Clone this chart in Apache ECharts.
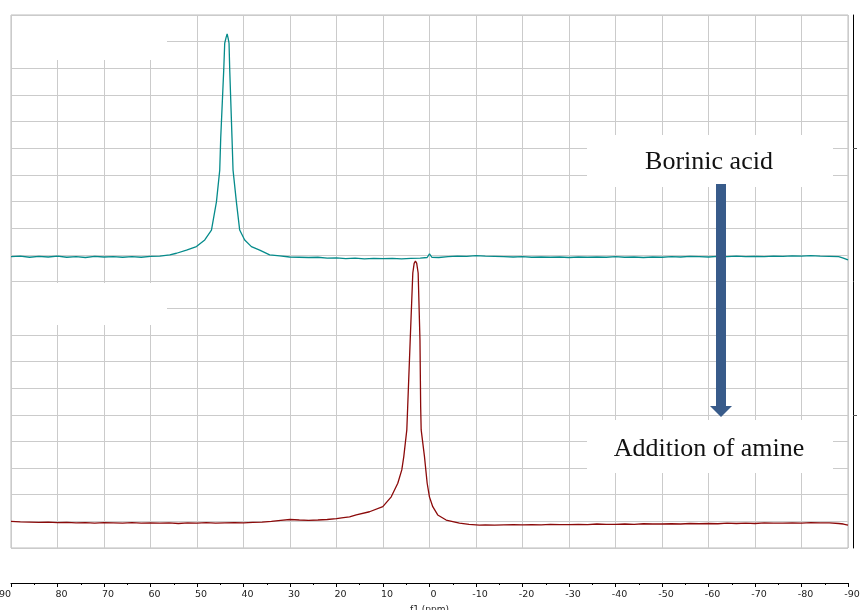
<!DOCTYPE html>
<html><head><meta charset="utf-8">
<script src="https://cdn.jsdelivr.net/npm/echarts@6/dist/echarts.min.js"></script>
<style>html,body{margin:0;padding:0;background:#fff}#c{width:860px;height:610px}</style>
</head><body><div id="c"></div>
<script>
// f1 (ppm) chemical shift axis
const xMin = -90, xMax = 90, xStep = 10;
// Borinic acid spectrum (teal)
const borinicPpm = [90,88,86,84,82,80,78,76,74,72,70,68,66,64,62,60,58,55.85,54.41,52.26,50.12,48.33,46.89,45.82,45.11,44.9,44.25,44.04,43.75,43.52,43.3,43.11,42.96,42.47,42.25,41.53,40.82,39.74,38.3,36.52,34.37,32.2,30.08,28,26,24,22,20,18,16,14,12,10,8,6,4,2,0.5,0,-0.5,-2,-4,-6,-8,-10,-12,-14,-16,-18,-20,-22,-24,-26,-28,-30,-32,-34,-36,-38,-40,-42,-44,-46,-48,-50,-52,-54,-56,-58,-60,-62,-64,-66,-68,-70,-72,-74,-76,-78,-80,-82,-84,-86,-88,-89,-90];
const borinicInt = [10.93,10.95,10.91,10.94,10.92,10.95,10.91,10.93,10.90,10.94,10.92,10.93,10.91,10.93,10.91,10.94,10.95,11.00,11.06,11.18,11.31,11.56,11.93,12.99,14.18,15.38,17.94,18.94,19.15,19.29,19.12,18.94,17.94,15.38,14.18,12.99,11.93,11.56,11.31,11.18,11.00,10.96,10.92,10.91,10.90,10.91,10.88,10.89,10.86,10.88,10.85,10.87,10.86,10.87,10.85,10.87,10.88,10.90,11.04,10.91,10.90,10.93,10.95,10.94,10.97,10.95,10.94,10.93,10.92,10.93,10.91,10.92,10.91,10.92,10.90,10.92,10.91,10.92,10.91,10.93,10.91,10.92,10.90,10.92,10.91,10.93,10.92,10.94,10.93,10.92,10.94,10.93,10.95,10.93,10.94,10.93,10.95,10.94,10.96,10.95,10.97,10.95,10.94,10.93,10.88,10.81];
// After addition of amine (dark red)
const aminePpm = [90,88,86,84,82,80,78,76,74,72,70,68,66,64,62,60,58,56,54,52,50,48,46,44,42,40,38,36,34,32,30,28,26,24,22,20,18.5,17.19,15.75,12.9,10.04,8.23,6.82,5.96,5.53,4.88,4.69,4.15,3.59,3.3,3.02,2.75,2.44,2.05,1.9,1.79,1.08,0.5,0.01,-0.7,-1.77,-3.58,-6.44,-8.5,-10.73,-12,-14,-16,-18,-20,-22,-24,-26,-28,-30,-32,-34,-36,-38,-40,-42,-44,-46,-48,-50,-52,-54,-56,-58,-60,-62,-64,-66,-68,-70,-72,-74,-76,-78,-80,-82,-84,-86,-88,-89,-90];
const amineInt = [1.00,0.98,0.97,0.96,0.97,0.95,0.96,0.94,0.95,0.93,0.95,0.94,0.93,0.95,0.93,0.94,0.93,0.94,0.92,0.94,0.93,0.95,0.93,0.94,0.95,0.94,0.96,0.97,1.00,1.04,1.07,1.05,1.04,1.05,1.07,1.10,1.14,1.17,1.24,1.36,1.55,1.92,2.43,2.93,3.43,4.43,5.30,7.80,10.32,10.68,10.77,10.68,10.32,7.80,5.30,4.43,3.43,2.43,1.92,1.55,1.24,1.05,0.93,0.89,0.86,0.87,0.86,0.87,0.88,0.87,0.88,0.87,0.89,0.88,0.88,0.89,0.88,0.90,0.89,0.89,0.90,0.89,0.91,0.90,0.90,0.91,0.90,0.92,0.91,0.92,0.91,0.93,0.92,0.93,0.92,0.94,0.93,0.93,0.94,0.93,0.95,0.94,0.94,0.92,0.90,0.86];
const labelTop = 'Borinic acid';
const labelBottom = 'Addition of amine';
const rightTicks = [5, 15];

const zip = (a, b) => a.map((v, i) => [v, b[i]]);
const chart = echarts.init(document.getElementById('c'), null, {renderer: 'canvas'});
const gridCol = '#cbcbcb';
chart.setOption({
  animation: false,
  backgroundColor: '#fff',
  grid: {left: 11, right: 12, top: 15, bottom: 62, show: true, borderColor: '#bdbdbd', borderWidth: 1,
         backgroundColor: 'transparent', outerBoundsMode: 'none', containLabel: false},
  xAxis: {
    type: 'value', min: xMin, max: xMax, interval: xStep, inverse: true,
    offset: 35, position: 'bottom',
    name: 'f1 (ppm)', nameLocation: 'middle', nameGap: 19,
    nameTextStyle: {fontFamily: 'DejaVu Sans', fontSize: 9, color: '#222'},
    axisLine: {show: true, onZero: false, lineStyle: {color: '#000', width: 1}},
    axisTick: {show: true, inside: false, length: 4, lineStyle: {color: '#000'}},
    minorTick: {show: true, splitNumber: 2, length: 2, lineStyle: {color: '#000'}},
    axisLabel: {fontFamily: 'DejaVu Sans', fontSize: 9.5, color: '#222', margin: 7, padding: [0, 0, 0, 8],
                showMinLabel: true, showMaxLabel: true, alignMaxLabel: 'right'},
    splitLine: {show: true, lineStyle: {color: gridCol, width: 1}}
  },
  yAxis: [{
    type: 'value', min: 0, max: 20, interval: 1,
    axisLine: {show: false}, axisTick: {show: false}, axisLabel: {show: false},
    splitLine: {show: true, lineStyle: {color: gridCol, width: 1}}
  }, {
    type: 'value', min: 0, max: 20, interval: 10, position: 'right', offset: 5,
    axisLine: {show: true, onZero: false, lineStyle: {color: '#000', width: 1}},
    axisTick: {show: true, inside: false, length: 4, customValues: rightTicks, lineStyle: {color: '#555'}},
    axisLabel: {show: false}, splitLine: {show: false}
  }],
  series: [{
    type: 'line', name: labelTop, data: zip(borinicPpm, borinicInt), showSymbol: false, z: 3,
    lineStyle: {color: '#058b8b', width: 1.3}, itemStyle: {color: '#058b8b'}
  }, {
    type: 'line', name: labelBottom, data: zip(aminePpm, amineInt), showSymbol: false, z: 3,
    lineStyle: {color: '#8b0a0a', width: 1.3}, itemStyle: {color: '#8b0a0a'}
  }],
  graphic: [
    {type: 'rect', z: 1, shape: {x: 12, y: 16, width: 155, height: 44}, style: {fill: '#fff'}},
    {type: 'rect', z: 1, shape: {x: 12, y: 283, width: 155, height: 42}, style: {fill: '#fff'}},
    {type: 'rect', z: 1, shape: {x: 587, y: 135, width: 246, height: 52}, style: {fill: '#fff'}},
    {type: 'rect', z: 1, shape: {x: 587, y: 420, width: 246, height: 53}, style: {fill: '#fff'}},
    {type: 'rect', z: 6, shape: {x: 716, y: 184, width: 10, height: 223}, style: {fill: '#385b8a'}},
    {type: 'polygon', z: 6, shape: {points: [[710, 406], [732, 406], [721, 417]]}, style: {fill: '#385b8a'}},
    {type: 'text', z: 7, x: 709, y: 162, style: {text: labelTop, font: '26px "Liberation Serif"', fill: '#111', align: 'center', verticalAlign: 'middle'}},
    {type: 'text', z: 7, x: 709, y: 449, style: {text: labelBottom, font: '26px "Liberation Serif"', fill: '#111', align: 'center', verticalAlign: 'middle'}}
  ]
});
</script></body></html>
